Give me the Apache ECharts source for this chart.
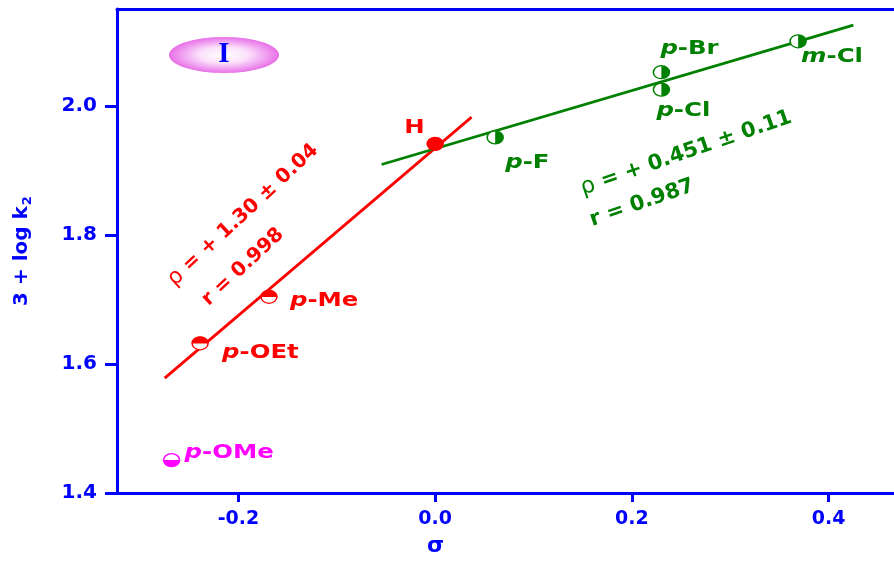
<!DOCTYPE html>
<html><head><meta charset="utf-8">
<script src="https://cdn.jsdelivr.net/npm/echarts@6/dist/echarts.min.js"></script>
<style>html,body{margin:0;padding:0;background:#fff}#c{width:894px;height:565px}</style>
</head><body><div id="c"></div>
<script>
// ---- data ----
const redNames = ['p-OEt', 'p-Me', 'H'];
const redSigma = [-0.239, -0.169, 0.0];
const redLogK = [1.632, 1.704, 1.941];
const greenNames = ['p-F', 'p-Cl', 'p-Br', 'm-Cl'];
const greenSigma = [0.061, 0.230, 0.230, 0.369];
const greenLogK = [1.951, 2.025, 2.052, 2.100];
const outlierNames = ['p-OMe'];
const outlierSigma = [-0.268];
const outlierLogK = [1.451];
const redFitSigma = [-0.275, 0.037];
const redFitLogK = [1.578, 1.9825];
const greenFitSigma = [-0.0545, 0.4252];
const greenFitLogK = [1.909, 2.125];
const xTickValues = [-0.2, 0.0, 0.2, 0.4];
const yTickValues = [1.4, 1.6, 1.8, 2.0];

// ---- styles ----
const BLUE = '#0000ff', RED = '#ff0000', GREEN = '#008000', MAG = '#ff00ff';
const F = '"DejaVu Sans", "Liberation Sans", sans-serif';
const labelOffset = {
  'p-OEt': [22, 10], 'p-Me': [21, 4], 'H': [-31, -16], 'p-F': [10, 25],
  'p-Cl': [-5, 21], 'p-Br': [-1, -23], 'm-Cl': [3, 16], 'p-OMe': [13, -7]
};
const MW = 16, MH = 13;
const TOP_HALF = 'path://M0,1A1,1,0,0,1,2,1Z';
const BOTTOM_HALF = 'path://M0,0A1,1,0,0,0,2,0Z';
const RIGHT_HALF = 'path://M0,0A1,1,0,0,1,0,2Z';

function pairs(xs, ys) { return xs.map((x, i) => [x, ys[i]]); }

function outlineSeries(xs, ys, color) {
  return {
    type: 'scatter', data: pairs(xs, ys), symbol: 'circle', symbolSize: [MW, MH], z: 5, silent: true,
    itemStyle: { color: '#ffffff', borderColor: color, borderWidth: 1.4, opacity: 1 }
  };
}
function fillSeries(xs, ys, color, half, names, fullName) {
  let size, offset;
  if (half === TOP_HALF) { size = [MW, MH / 2 + 0.5]; offset = [0, -MH / 4]; }
  else if (half === BOTTOM_HALF) { size = [MW, MH / 2]; offset = [0, MH / 4]; }
  else { size = [MW / 2, MH]; offset = [MW / 4, 0]; }
  return {
    type: 'scatter', z: 6, silent: true, symbol: half, symbolSize: size, symbolOffset: offset,
    itemStyle: { color: color, opacity: 1 },
    data: xs.map((x, i) => names[i] === fullName
      ? { value: [x, ys[i]], symbol: 'circle', symbolSize: [MW, MH], symbolOffset: [0, 0] }
      : { value: [x, ys[i]] })
  };
}
function labelSeries(names, xs, ys, color) {
  return {
    type: 'custom', z: 10, silent: true, data: pairs(xs, ys),
    renderItem(params, api) {
      const p = api.coord([api.value(0), api.value(1)]);
      const name = names[params.dataIndex];
      const off = labelOffset[name];
      const dash = name.indexOf('-');
      const text = dash > 0 ? '{i|' + name.slice(0, dash) + '}{n|' + name.slice(dash) + '}' : '{n|' + name + '}';
      return {
        type: 'text', x: p[0] + off[0], y: p[1] + off[1], scaleX: 1.22,
        style: {
          text: text, fill: color, align: 'left', verticalAlign: 'middle',
          fontFamily: F, fontSize: 20, fontWeight: 'bold',
          rich: {
            i: { fontFamily: F, fontSize: 20, fontWeight: 'bold', fontStyle: 'italic', fill: color },
            n: { fontFamily: F, fontSize: 20, fontWeight: 'bold', fill: color }
          }
        }
      };
    }
  };
}
function lineSeries(xs, ys, color) {
  return {
    type: 'line', data: pairs(xs, ys), symbol: 'none', z: 3, silent: true,
    lineStyle: { color: color, width: 2.8 }
  };
}
function eqText(x, y, deg, color, size, rho, r) {
  const rich = {
    g: { fontFamily: F, fontSize: size + 2, fontWeight: 'normal', fill: color },
    b: { fontFamily: F, fontSize: size, fontWeight: 'bold', fill: color }
  };
  return [
    { type: 'text', x: x[0], y: y[0], rotation: deg * Math.PI / 180, z: 20,
      style: { text: '{g|ρ}{b| = + ' + rho + '}', rich: rich, align: 'center', verticalAlign: 'middle', fill: color, fontFamily: F, fontSize: size, fontWeight: 'bold' } },
    { type: 'text', x: x[1], y: y[1], rotation: deg * Math.PI / 180, z: 20,
      style: { text: '{b|r = ' + r + '}', rich: rich, align: 'center', verticalAlign: 'middle', fill: color, fontFamily: F, fontSize: size, fontWeight: 'bold' } }
  ];
}

const xMin = -0.3235, xMax = 0.4665, yMin = 1.4, yMax = 2.15;
const axisLabelX = { fontFamily: F, fontSize: 19, fontWeight: 'bold', color: BLUE };

const chart = echarts.init(document.getElementById('c'), null, { renderer: 'canvas' });
chart.setOption({
  animation: false,
  backgroundColor: '#ffffff',
  grid: { left: 117, top: 9, right: 0, bottom: 72, outerBoundsMode: 'none', containLabel: false },
  xAxis: [{
    type: 'value', min: xMin, max: xMax, position: 'bottom',
    name: 'σ', nameLocation: 'middle', nameGap: 42,
    nameTextStyle: { fontFamily: F, fontSize: 22, fontWeight: 'bold', color: BLUE, padding: [0, 140, 0, 0] },
    axisLine: { show: true, onZero: false, lineStyle: { color: BLUE, width: 3 } },
    axisTick: { show: true, inside: false, length: 9, customValues: xTickValues, lineStyle: { color: BLUE, width: 3 } },
    axisLabel: Object.assign({ margin: 17, customValues: xTickValues, formatter: v => v.toFixed(1) }, axisLabelX),
    splitLine: { show: false }
  }, {
    type: 'value', min: xMin, max: xMax, position: 'top',
    axisLine: { show: true, onZero: false, lineStyle: { color: BLUE, width: 3 } },
    axisTick: { show: false }, axisLabel: { show: false }, splitLine: { show: false }
  }],
  yAxis: {
    type: 'value', min: yMin, max: yMax,
    name: '3 + log k{s|2}', nameLocation: 'middle', nameGap: 83, nameRotate: 90,
    nameTextStyle: { fontFamily: F, fontSize: 20, fontWeight: 'bold', color: BLUE,
      rich: { s: { fontFamily: F, fontSize: 13, fontWeight: 'bold', color: BLUE, padding: [12, 0, 0, 1] } } },
    axisLine: { show: true, onZero: false, lineStyle: { color: BLUE, width: 3 } },
    axisTick: { show: true, inside: false, length: 12, customValues: yTickValues, lineStyle: { color: BLUE, width: 3 } },
    axisLabel: { margin: 20, customValues: yTickValues, formatter: v => v.toFixed(1), fontFamily: F, fontSize: 20, fontWeight: 'bold', color: BLUE },
    splitLine: { show: false }
  },
  graphic: [
    { type: 'circle', x: 224, y: 55, scaleX: 55 / 18, z: 20, shape: { cx: 0, cy: 0, r: 18 },
      style: { fill: { type: 'radial', x: 0.5, y: 0.5, r: 0.5,
        colorStops: [{ offset: 0, color: '#ffffff' }, { offset: 0.45, color: '#fbe0fb' }, { offset: 1, color: '#e870e8' }] } } },
    { type: 'text', x: 224, y: 55, z: 21,
      style: { text: 'I', fontFamily: '"Liberation Serif", "DejaVu Serif", serif', fontSize: 29, fontWeight: 'bold', fill: BLUE, align: 'center', verticalAlign: 'middle' } }
  ].concat(
    eqText([243, 243], [215, 267], 43, RED, 20, '1.30 ± 0.04', '0.998'),
    eqText([686, 642], [153, 203], 19, GREEN, 21, '0.451 ± 0.11', '0.987')
  ),
  series: [
    lineSeries(redFitSigma, redFitLogK, RED),
    lineSeries(greenFitSigma, greenFitLogK, GREEN),
    outlineSeries(redSigma, redLogK, RED),
    fillSeries(redSigma, redLogK, RED, TOP_HALF, redNames, 'H'),
    outlineSeries(greenSigma, greenLogK, GREEN),
    fillSeries(greenSigma, greenLogK, GREEN, RIGHT_HALF, greenNames, null),
    outlineSeries(outlierSigma, outlierLogK, MAG),
    fillSeries(outlierSigma, outlierLogK, MAG, BOTTOM_HALF, outlierNames, null),
    labelSeries(redNames, redSigma, redLogK, RED),
    labelSeries(greenNames, greenSigma, greenLogK, GREEN),
    labelSeries(outlierNames, outlierSigma, outlierLogK, MAG)
  ]
});
</script>
</body></html>
